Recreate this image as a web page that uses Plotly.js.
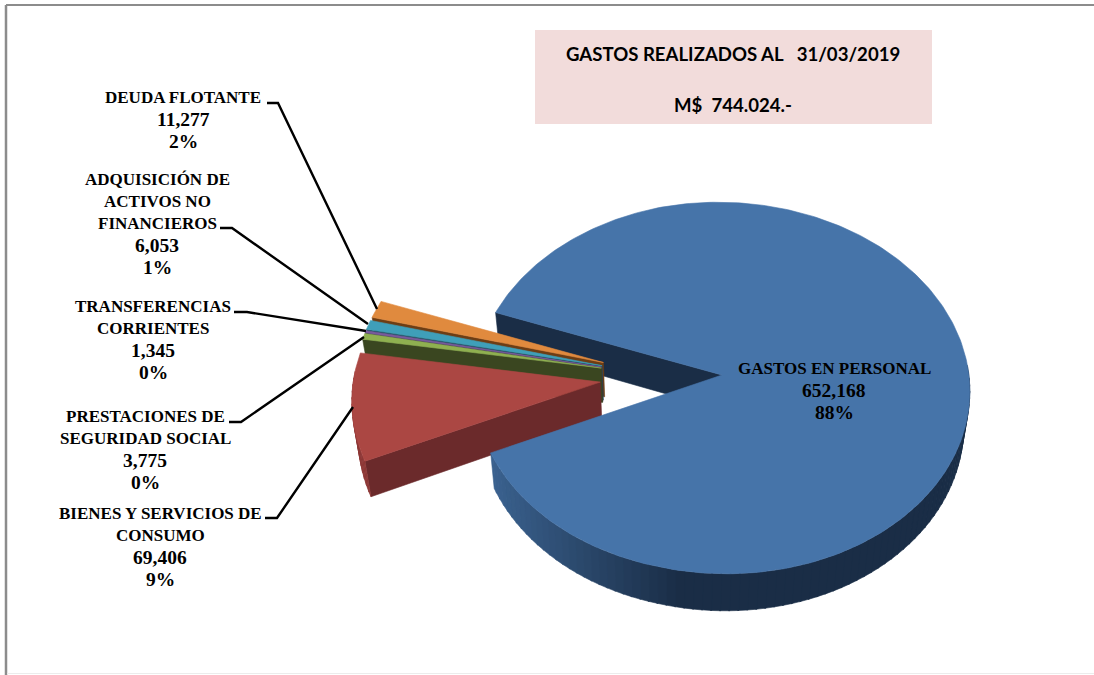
<!DOCTYPE html>
<html><head><meta charset="utf-8">
<script src="https://cdn.plot.ly/plotly-3.0.1.min.js"></script>
<style>html,body{margin:0;padding:0;background:#fff;overflow:hidden}</style>
</head><body><div id="chart" style="width:1094px;height:675px"></div>
<script>
// ---- data (clockwise from the big slice) ----
const categories = ["GASTOS EN PERSONAL","BIENES Y SERVICIOS DE CONSUMO","PRESTACIONES DE SEGURIDAD SOCIAL","TRANSFERENCIAS CORRIENTES","ADQUISICIÓN DE ACTIVOS NO FINANCIEROS","DEUDA FLOTANTE"];
const values = [652168,69406,3775,1345,6053,11277];
const percentLabels = ["88%","9%","0%","0%","1%","2%"];
const labelLines = [["GASTOS EN PERSONAL"],["BIENES Y SERVICIOS DE","CONSUMO"],["PRESTACIONES DE","SEGURIDAD SOCIAL"],["TRANSFERENCIAS","CORRIENTES"],["ADQUISICIÓN DE","ACTIVOS NO","FINANCIEROS"],["DEUDA FLOTANTE"]];
const titleLines = ["GASTOS REALIZADOS AL   31/03/2019","M$  744.024.-"];

// ---- styling & layout ----
const topColors  = ["#4674a9","#ab4743","#8fb050","#7a5a9c","#3f9fb9","#e08a3e"];
const sideColors = ["#1a2d46","#6b2a2b","#3a4620","#3b2b52","#1e4f5e","#6d3d14"];
const labelX = [834,160,145,153,157,183];
const labelY = [368,513,416,306,179,97];
const lineGap = 22;
const leaders = [
  null,
  [[265,518],[277,518],[353,407]],
  [[229,422],[241,422],[364,337]],
  [[234,312],[247,312],[366,331]],
  [[220,228],[232,228],[368,324]],
  [[267,103],[278,103],[377,309]]
];
const C = {x:661, y:376, B:247, A:185, k:0.07, explode:0.247, startDeg:201, vx:666, shear:0.013};

const rad = d => d*Math.PI/180;
function project(U,V){
  const q=1-C.k*V, x=C.x+C.B*U/q;
  return [x, C.y+C.A*V/q+C.shear*Math.max(0,C.x-x)];
}
function sink(p,V){return [C.vx+(p[0]-C.vx)*0.98, p[1]+34.5+2.5*V];}

const total = values.reduce((a,b)=>a+b,0);
let cum = C.startDeg;
const slices = values.map((v,i)=>{
  const a0=cum, a1=cum+v/total*360; cum=a1;
  const m=rad((a0+a1)/2);
  return {i,a0,a1,ox:C.explode*Math.cos(m),oy:C.explode*Math.sin(m)};
});
function rim(s,deg){const U=s.ox+Math.cos(rad(deg)),V=s.oy+Math.sin(rad(deg));return {p:project(U,V),V};}
function apex(s){return {p:project(s.ox,s.oy),V:s.oy};}
function poly(pts,color,name){
  const xs=pts.map(p=>p[0]),ys=pts.map(p=>p[1]);
  return {type:"scatter",mode:"lines",x:xs.concat(xs[0]),y:ys.concat(ys[0]),fill:"toself",fillcolor:color,
    line:{color:color,width:0.6},hoverinfo:"text",text:name,showlegend:false,name:name};
}
function topFace(s){
  const pts=[apex(s).p];const n=Math.max(4,Math.ceil(s.a1-s.a0));
  for(let j=0;j<=n;j++)pts.push(rim(s,s.a0+(s.a1-s.a0)*j/n).p);
  return poly(pts,topColors[s.i],categories[s.i]);
}
function startFace(s){
  const a=apex(s),r=rim(s,s.a0);
  return poly([a.p,r.p,sink(r.p,r.V),sink(a.p,a.V)],sideColors[s.i],categories[s.i]);
}
function mix(c1,c2,t){return "rgb("+c1.map((c,i)=>Math.round(c+(c2[i]-c)*t)).join(",")+")";}
function wall(s,colorAt){
  const out=[];
  for(let d=Math.floor(s.a0);d<s.a1;d+=2){
    const d0=Math.max(d,s.a0),d1=Math.min(d+2.3,s.a1);
    if(Math.sin(rad(d0))<-0.04&&Math.sin(rad(d1))<-0.04)continue;
    const r0=rim(s,d0),r1=rim(s,d1);
    out.push(poly([r0.p,r1.p,sink(r1.p,r1.V),sink(r0.p,r0.V)],colorAt(r0.p[0]),categories[s.i]));
  }
  return out;
}
const blue=slices[0],red=slices[1];
const blueWall=x=>mix([58,97,142],[26,45,70],Math.min(1,Math.max(0,(x-494)/190)));
const redWall=x=>"#8d3836";
const traces=[startFace(blue)];
[5,4,3,2].forEach(i=>{traces.push(startFace(slices[i]));traces.push(topFace(slices[i]));});
traces.push(startFace(red),...wall(red,redWall),topFace(red));
traces.push(...wall(blue,blueWall),topFace(blue));

// ---- text ----
const fmt=n=>n.toLocaleString("en-US");
const annotations=[];
const put=(x,y,t,font)=>annotations.push({xref:"x",yref:"y",x,y,text:t,showarrow:false,xanchor:"center",yanchor:"middle",font});
const serif={family:"Liberation Serif",size:17,color:"#000"};
const serifNum={family:"Liberation Serif",size:19.5,color:"#000"};
categories.forEach((c,i)=>{
  const n=labelLines[i].length;
  labelLines[i].forEach((t,j)=>put(labelX[i],labelY[i]+j*lineGap,"<b>"+t+"</b>",serif));
  put(labelX[i],labelY[i]+n*lineGap,"<b>"+fmt(values[i])+"</b>",serifNum);
  put(labelX[i],labelY[i]+(n+1)*lineGap,"<b>"+percentLabels[i]+"</b>",serifNum);
});
const sans={family:"Lato",size:18.6,color:"#000"};
put(733,54,"<b>"+titleLines[0].replace(/ /g,"\u00a0")+"</b>",sans);
put(733,105,"<b>"+titleLines[1].replace(/ /g,"\u00a0")+"</b>",sans);

// ---- leaders & frame ----
leaders.forEach(l=>{ if(!l)return;
  traces.push({type:"scatter",mode:"lines",x:l.map(p=>p[0]),y:l.map(p=>p[1]),line:{color:"#000",width:2.4},hoverinfo:"skip",showlegend:false});
});
const shapes=[
  {type:"rect",xref:"x",yref:"y",x0:535,x1:932,y0:30,y1:124,fillcolor:"#f2dcdb",line:{width:0},layer:"below"},
  {type:"line",xref:"x",yref:"y",x0:6,x1:1094,y0:5,y1:5,line:{color:"#8c8c8c",width:2}},
  {type:"line",xref:"x",yref:"y",x0:6,x1:6,y0:5,y1:675,line:{color:"#8c8c8c",width:2.5}},
  {type:"line",xref:"x",yref:"y",x0:7,x1:1094,y0:673.5,y1:673.5,line:{color:"#ececec",width:1}}
];
const hidden={visible:false,fixedrange:true};
Plotly.newPlot("chart",traces,{
  width:1094,height:675,margin:{l:0,r:0,t:0,b:0},paper_bgcolor:"#fff",plot_bgcolor:"#fff",showlegend:false,
  xaxis:Object.assign({range:[0,1094]},hidden),yaxis:Object.assign({range:[675,0]},hidden),
  annotations,shapes
},{displayModeBar:false});
</script></body></html>
